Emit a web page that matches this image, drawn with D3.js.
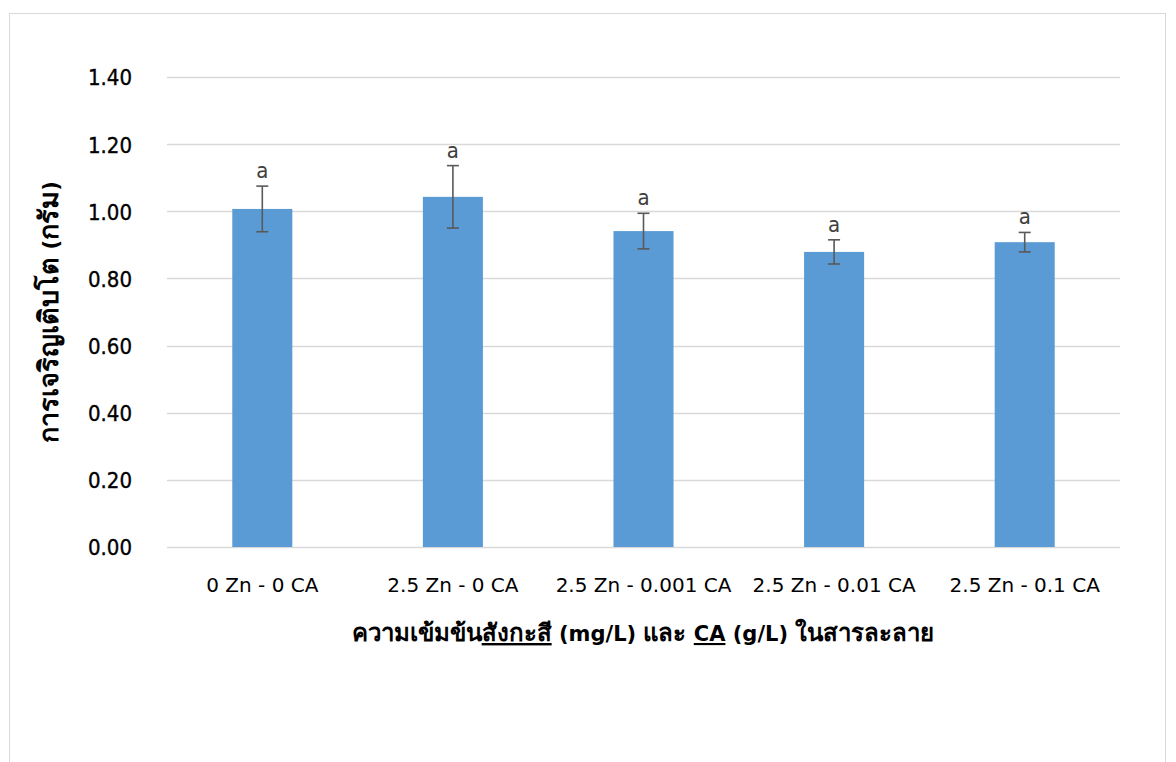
<!DOCTYPE html>
<html><head><meta charset="utf-8">
<script src="https://cdn.jsdelivr.net/npm/d3@7/dist/d3.min.js"></script>
<style>
html,body{margin:0;padding:0;background:#fff;}
svg{display:block;font-family:"DejaVu Sans","Noto Sans",sans-serif;}
</style></head>
<body>
<svg id="chart" width="1176" height="762"></svg>
<script>
const categories = ["0 Zn - 0 CA","2.5 Zn - 0 CA","2.5 Zn - 0.001 CA","2.5 Zn - 0.01 CA","2.5 Zn - 0.1 CA"];
const values = [1.007, 1.043, 0.941, 0.879, 0.908];
const errors = [0.068, 0.093, 0.053, 0.036, 0.029];
const letters = ["a","a","a","a","a"];
const yTicks = [0, 0.2, 0.4, 0.6, 0.8, 1.0, 1.2, 1.4];

(function(){
const svg = d3.select("#chart");
svg.append("rect").attr("x",9.5).attr("y",13.5).attr("width",1156).attr("height",760)
  .attr("fill","#fff").attr("stroke","#d9d9d9");

const pLeft=167, pRight=1120, pTop=77, pBottom=547;
const x = d3.scaleBand().domain(categories).range([pLeft,pRight]).paddingInner(0.685).paddingOuter(0.3425);
const y = d3.scaleLinear().domain([0,1.4]).range([pBottom,pTop]);

// gridlines
svg.append("g").selectAll("line").data(yTicks).join("line")
  .attr("x1",pLeft).attr("x2",pRight)
  .attr("y1",d=>Math.round(y(d))+0.5).attr("y2",d=>Math.round(y(d))+0.5)
  .attr("stroke","#d9d9d9").attr("stroke-width",1.3);

// y axis labels
const yAxis = d3.axisLeft(y).tickValues(yTicks).tickFormat(d3.format(".2f")).tickSize(0).tickPadding(35);
const gy = svg.append("g").attr("transform",`translate(${pLeft},0)`).call(yAxis);
gy.select(".domain").remove();
gy.selectAll("text").attr("font-size",22).attr("font-weight",400).attr("fill","#000")
  .attr("stroke","#000").attr("stroke-width",0.35)
  .attr("font-family","'DejaVu Sans Condensed','DejaVu Sans',sans-serif").attr("dy","0.36em");

// bars
svg.append("g").selectAll("rect").data(values).join("rect")
  .attr("x",(d,i)=>x(categories[i])).attr("width",x.bandwidth())
  .attr("y",d=>y(d)).attr("height",d=>y(0)-y(d)).attr("fill","#5B9BD5");

// error bars
const eg = svg.append("g").attr("stroke","#595959").attr("stroke-width",1.6);
values.forEach((v,i)=>{
  const cx = x(categories[i]) + x.bandwidth()/2;
  const t = y(v+errors[i]), b = y(v-errors[i]);
  eg.append("line").attr("x1",cx).attr("x2",cx).attr("y1",t).attr("y2",b);
  eg.append("line").attr("x1",cx-6).attr("x2",cx+6).attr("y1",t).attr("y2",t);
  eg.append("line").attr("x1",cx-6).attr("x2",cx+6).attr("y1",b).attr("y2",b);
});

// letters
svg.append("g").selectAll("text").data(letters).join("text")
  .attr("x",(d,i)=>x(categories[i]) + x.bandwidth()/2)
  .attr("y",(d,i)=>y(values[i]+errors[i]) - 8)
  .attr("text-anchor","middle").attr("font-size",22)
  .attr("font-family","'DejaVu Sans Condensed','DejaVu Sans',sans-serif")
  .attr("fill","#404040").text(d=>d);

// x axis labels
const xAxis = d3.axisBottom(x).tickSize(0).tickPadding(31);
const gx = svg.append("g").attr("transform",`translate(0,${pBottom})`).call(xAxis);
gx.select(".domain").remove();
gx.selectAll("text").attr("font-size",20).attr("font-weight",400).attr("fill","#000")
  .attr("font-family","'DejaVu Sans',sans-serif");

// x title
const xt = svg.append("text").attr("x",643).attr("y",641).attr("text-anchor","middle")
  .attr("font-size",24).attr("font-weight",700).attr("fill","#000");
xt.append("tspan").text("ความเข้มข้น");
xt.append("tspan").attr("text-decoration","underline").text("สังกะสี");
xt.append("tspan").attr("font-size",21).text(" (mg/L) ");
xt.append("tspan").text("และ");
xt.append("tspan").attr("font-size",21).text(" ");
xt.append("tspan").attr("font-size",21).attr("text-decoration","underline").text("CA");
xt.append("tspan").attr("font-size",21).text(" (g/L) ");
xt.append("tspan").text("ในสารละลาย");

// y title
const yt = svg.append("text").attr("transform","translate(58,312) rotate(-90)").attr("text-anchor","middle")
  .attr("font-size",27).attr("font-weight",700).attr("fill","#000");
yt.append("tspan").text("การเจริญเติบโต");
yt.append("tspan").attr("font-size",21).text(" (");
yt.append("tspan").text("กรัม");
yt.append("tspan").attr("font-size",21).text(")");
})();
</script>
</body></html>
